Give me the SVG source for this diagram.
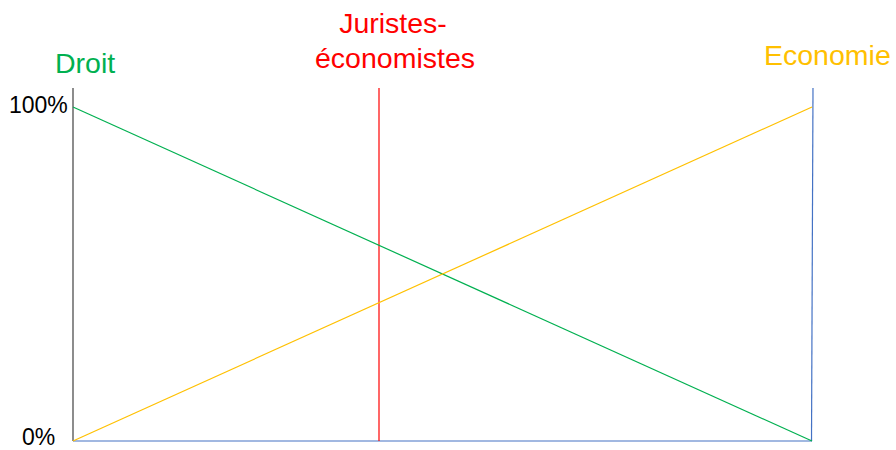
<svg xmlns="http://www.w3.org/2000/svg" width="896" height="450" viewBox="0 0 896 450">
<style>
text{font-family:"Liberation Sans",Arial,sans-serif;}
.lbl{font-size:28.5px;}
.pct{font-size:23px;fill:#000;}
.ln{fill:none;stroke-width:1.2;}
</style>
<rect width="896" height="450" fill="#fff"/>
<g id="connectors">
<line class="ln" x1="73" y1="88" x2="73" y2="441" stroke="#404040"/>
<line class="ln" x1="73" y1="441" x2="812" y2="441" stroke="#4472C4"/>
<line class="ln" x1="813" y1="88" x2="811.5" y2="441" stroke="#4472C4"/>
<line class="ln" x1="379" y1="88" x2="379" y2="441" stroke="#FF0000"/>
<line class="ln" x1="73" y1="107" x2="812" y2="441" stroke="#00B050"/>
<line class="ln" x1="73" y1="441" x2="812" y2="107" stroke="#FFC000"/>
</g>
<g id="droit"><text class="lbl" x="55" y="73" fill="#00B050">Droit</text></g>
<g id="juristes"><text class="lbl" x="393" y="33" fill="#FF0000" text-anchor="middle">Juristes-</text><text class="lbl" x="395" y="68" fill="#FF0000" text-anchor="middle">économistes</text></g>
<g id="economie"><text class="lbl" x="764" y="65" fill="#FFC000">Economie</text></g>
<g id="y100"><text class="pct" x="9" y="113">100%</text></g>
<g id="y0"><text class="pct" x="22" y="445">0%</text></g>
</svg>
